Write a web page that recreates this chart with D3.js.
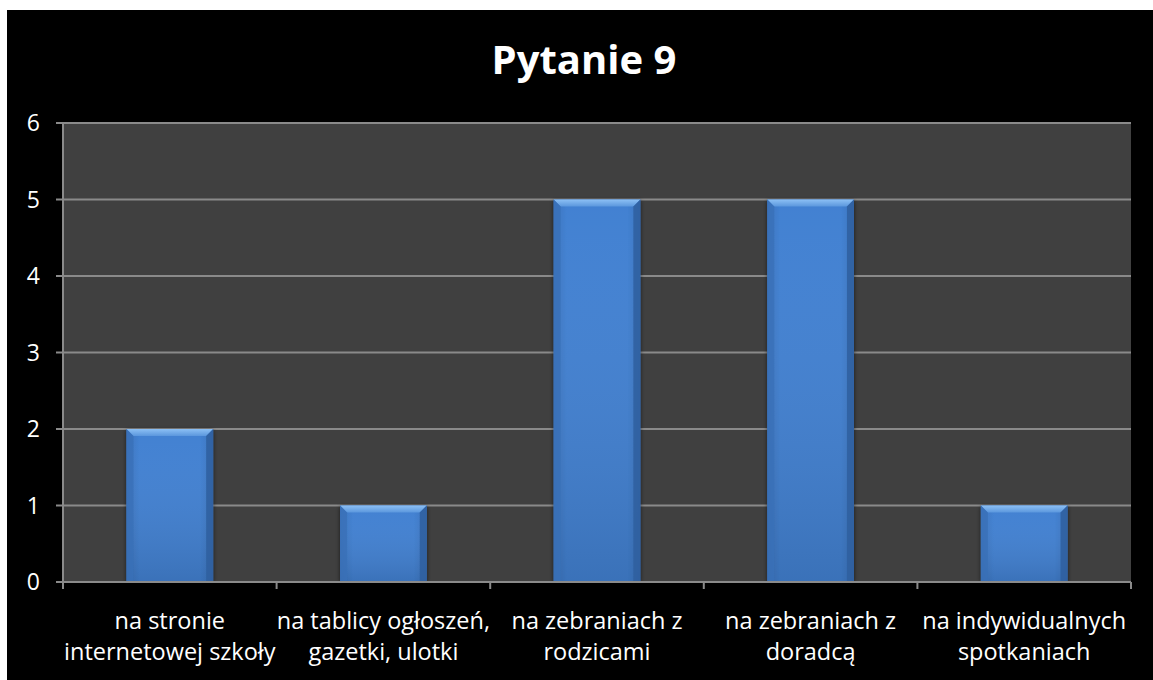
<!DOCTYPE html>
<html><head><meta charset="utf-8">
<script src="https://cdn.jsdelivr.net/npm/d3@7"></script>
<style>html,body{margin:0;padding:0;background:#fff;}svg{display:block;}</style>
</head><body>
<svg id="c" width="1153" height="680"></svg>
<script>
const title = "Pytanie 9";
const categories = [
  ["na stronie", "internetowej szkoły"],
  ["na tablicy ogłoszeń,", "gazetki, ulotki"],
  ["na zebraniach z", "rodzicami"],
  ["na zebraniach z", "doradcą"],
  ["na indywidualnych", "spotkaniach"]
];
const values = [2, 1, 5, 5, 1];
const yTicks = [0, 1, 2, 3, 4, 5, 6];

const svg = d3.select("#c");
const font = "'Open Sans', 'Noto Sans', sans-serif";
svg.append("rect").attr("x", 7).attr("y", 10).attr("width", 1146).attr("height", 670).attr("fill", "#000");

const m = {l: 63, r: 1131, t: 123, b: 582};
const x = d3.scaleBand().domain(d3.range(categories.length)).range([m.l, m.r]).paddingInner(0.594).paddingOuter(0.297);
const xb = d3.scaleBand().domain(d3.range(categories.length)).range([m.l, m.r]);
const y = d3.scaleLinear().domain([0, 6]).range([m.b, m.t]);

svg.append("rect").attr("x", m.l).attr("y", m.t).attr("width", m.r - m.l).attr("height", m.b - m.t).attr("fill", "#404040");

svg.append("g").selectAll("line").data(yTicks.filter(d => d > 0)).join("line")
  .attr("x1", m.l).attr("x2", m.r).attr("y1", d => y(d)).attr("y2", d => y(d))
  .attr("stroke", "#8a8a8a").attr("stroke-width", 2);

const defs = svg.append("defs");
const g1 = defs.append("linearGradient").attr("id", "barg").attr("x1", 0).attr("x2", 1).attr("y1", 0).attr("y2", 0);
g1.append("stop").attr("offset", 0).attr("stop-color", "#3a73bd");
g1.append("stop").attr("offset", 0.15).attr("stop-color", "#4281d2");
g1.append("stop").attr("offset", 0.85).attr("stop-color", "#4281d2");
g1.append("stop").attr("offset", 1).attr("stop-color", "#3a73bd");
const g2 = defs.append("linearGradient").attr("id", "barv").attr("x1", 0).attr("x2", 0).attr("y1", 0).attr("y2", 1);
g2.append("stop").attr("offset", 0).attr("stop-color", "#fff").attr("stop-opacity", 0.0);
g2.append("stop").attr("offset", 1).attr("stop-color", "#000").attr("stop-opacity", 0.12);
const g3 = defs.append("linearGradient").attr("id", "topb").attr("x1", 0).attr("x2", 0).attr("y1", 0).attr("y2", 1);
g3.append("stop").attr("offset", 0).attr("stop-color", "#8cc0f5");
g3.append("stop").attr("offset", 1).attr("stop-color", "#5b97dd");
const f = defs.append("filter").attr("id", "sh").attr("x", -0.2).attr("y", -0.2).attr("width", 1.4).attr("height", 1.4);
f.append("feDropShadow").attr("dx", 0).attr("dy", 1).attr("stdDeviation", 2).attr("flood-color", "#000").attr("flood-opacity", 0.6);

const bev = 7;
const bars = svg.append("g").selectAll("g").data(values).join("g");
bars.each(function(v, i) {
  const g = d3.select(this);
  const x0 = x(i), w = x.bandwidth(), y0 = y(v), y1 = y(0);
  g.append("rect").attr("x", x0).attr("y", y0).attr("width", w).attr("height", y1 - y0)
    .attr("fill", "url(#barg)").attr("filter", "url(#sh)");
  g.append("rect").attr("x", x0).attr("y", y0).attr("width", w).attr("height", y1 - y0).attr("fill", "url(#barv)");
  g.append("path").attr("d", `M${x0},${y0}L${x0 + w},${y0}L${x0 + w - bev},${y0 + bev}L${x0 + bev},${y0 + bev}Z`).attr("fill", "url(#topb)");
  g.append("path").attr("d", `M${x0},${y0}L${x0 + bev},${y0 + bev}L${x0 + bev},${y1}L${x0},${y1}Z`).attr("fill", "#3a70b8").attr("opacity", 0.8);
  g.append("path").attr("d", `M${x0 + w},${y0}L${x0 + w - bev},${y0 + bev}L${x0 + w - bev},${y1}L${x0 + w},${y1}Z`).attr("fill", "#2f5f9f").attr("opacity", 0.85);
});

svg.append("line").attr("x1", m.l).attr("x2", m.l).attr("y1", m.t).attr("y2", m.b).attr("stroke", "#8a8a8a").attr("stroke-width", 2);
svg.append("line").attr("x1", m.l).attr("x2", m.r).attr("y1", m.b).attr("y2", m.b).attr("stroke", "#8a8a8a").attr("stroke-width", 2);
svg.append("g").selectAll("line").data(yTicks).join("line")
  .attr("x1", m.l - 7).attr("x2", m.l).attr("y1", d => y(d)).attr("y2", d => y(d)).attr("stroke", "#8a8a8a").attr("stroke-width", 2);
const bounds = d3.range(categories.length + 1).map(i => i < categories.length ? xb(i) : m.r);
svg.append("g").selectAll("line").data(bounds).join("line")
  .attr("x1", d => d).attr("x2", d => d).attr("y1", m.b).attr("y2", m.b + 7).attr("stroke", "#8a8a8a").attr("stroke-width", 2);

svg.append("g").selectAll("text").data(yTicks).join("text")
  .attr("x", 40).attr("y", d => y(d)).attr("dy", "0.35em").attr("text-anchor", "end")
  .attr("fill", "#fff").attr("font-family", font).attr("font-size", 23).text(d => d);

const labs = svg.append("g").selectAll("text").data(categories).join("text")
  .attr("text-anchor", "middle").attr("fill", "#fff").attr("font-family", font).attr("font-size", 23.5);
labs.each(function(lines, i) {
  const t = d3.select(this);
  lines.forEach((ln, j) => {
    t.append("tspan").attr("x", xb(i) + xb.bandwidth() / 2).attr("y", 621 + j * 31).attr("dy", "0.35em").text(ln);
  });
});

svg.append("text").attr("x", 584).attr("y", 60).attr("dy", "0.35em").attr("text-anchor", "middle")
  .attr("fill", "#fff").attr("font-family", font).attr("font-weight", "bold").attr("font-size", 40).text(title);
</script>
</body></html>
